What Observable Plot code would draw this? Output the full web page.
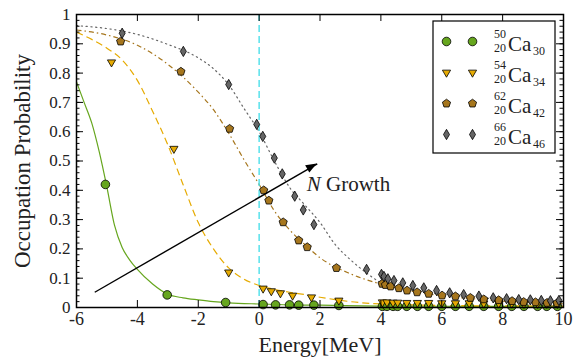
<!DOCTYPE html>
<html><head><meta charset="utf-8">
<script src="https://cdn.jsdelivr.net/npm/d3@7"></script>
<script src="https://cdn.jsdelivr.net/npm/@observablehq/plot@0.6"></script>
<style>body{margin:0;background:#fff}svg,svg text{font-family:"Liberation Serif","DejaVu Serif","Times New Roman",Times,"Nimbus Roman",serif !important}</style>
</head><body><div id="chart"></div>
<script>
// ---- data ----
const xTicks = [-6, -4, -2, 0, 2, 4, 6, 8, 10];
const yTicks = [0, 0.1, 0.2, 0.3, 0.4, 0.5, 0.6, 0.7, 0.8, 0.9, 1];
const yMinor = d3.range(0, 1.0001, 0.02);

const ca50X = [-5.05, -3.02, -1.1, 0.13, 0.54, 1.0, 1.3, 1.8, 2.62, 4.05, 4.2, 4.4, 4.55, 4.85, 5.2, 5.57, 6.0, 6.45, 6.9, 7.38, 7.87, 8.3, 8.7, 9.15, 9.45, 9.8];
const ca50Y = [0.42, 0.043, 0.017, 0.01, 0.009, 0.009, 0.008, 0.008, 0.007, 0.004, 0.004, 0.004, 0.004, 0.004, 0.004, 0.004, 0.004, 0.004, 0.004, 0.004, 0.004, 0.004, 0.004, 0.004, 0.004, 0.004];
const ca54X = [-4.85, -2.8, -1.0, 0.13, 0.40, 0.70, 1.1, 1.72, 2.62, 4.05, 4.2, 4.4, 4.55, 4.85, 5.2, 5.57, 6.0, 6.45, 6.9, 7.38, 7.87, 8.3, 8.7, 9.15, 9.45, 9.8];
const ca54Y = [0.837, 0.542, 0.12, 0.065, 0.056, 0.049, 0.041, 0.035, 0.024, 0.018, 0.018, 0.017, 0.017, 0.016, 0.016, 0.016, 0.015, 0.015, 0.015, 0.014, 0.014, 0.014, 0.013, 0.013, 0.013, 0.013];
const ca62X = [-4.55, -2.57, -0.97, 0.15, 0.32, 0.79, 1.3, 1.58, 2.54, 4.04, 4.15, 4.32, 4.59, 4.86, 5.19, 5.57, 6.01, 6.45, 6.94, 7.38, 7.87, 8.31, 8.69, 9.08, 9.46, 9.79];
const ca62Y = [0.908, 0.805, 0.61, 0.40, 0.365, 0.291, 0.229, 0.206, 0.135, 0.081, 0.077, 0.072, 0.066, 0.058, 0.052, 0.047, 0.041, 0.038, 0.033, 0.028, 0.025, 0.022, 0.019, 0.018, 0.016, 0.015];
const ca66X = [-4.5, -2.49, -1.0, -0.08, 0.12, 0.5, 0.76, 1.17, 1.45, 1.8, 3.53, 4.02, 4.1, 4.23, 4.43, 4.72, 5.05, 5.41, 5.83, 6.26, 6.72, 7.22, 7.69, 8.13, 8.53, 8.91, 9.27, 9.57, 9.85];
const ca66Y = [0.936, 0.874, 0.761, 0.625, 0.584, 0.51, 0.456, 0.38, 0.333, 0.283, 0.13, 0.113, 0.106, 0.098, 0.092, 0.084, 0.075, 0.067, 0.058, 0.05, 0.044, 0.039, 0.033, 0.03, 0.027, 0.026, 0.024, 0.023, 0.024];

const fit50X = [-6, -5.75, -5.5, -5.25, -5, -4.75, -4.5, -4.25, -4, -3.5, -3, -2.5, -2, -1.5, -1, 0, 1, 2, 4, 7, 10];
const fit50Y = [0.77, 0.70, 0.63, 0.53, 0.41, 0.28, 0.205, 0.162, 0.13, 0.08, 0.045, 0.033, 0.026, 0.02, 0.016, 0.012, 0.009, 0.008, 0.005, 0.004, 0.003];
const fit54X = [-6, -5.5, -5, -4.5, -4, -3.5, -3, -2.5, -2, -1.5, -1, -0.5, 0, 0.5, 1, 1.5, 2, 2.5, 3, 4, 5, 7, 10];
const fit54Y = [0.94, 0.915, 0.885, 0.845, 0.775, 0.67, 0.555, 0.42, 0.29, 0.2, 0.135, 0.097, 0.075, 0.062, 0.052, 0.044, 0.035, 0.027, 0.02, 0.012, 0.009, 0.006, 0.005];
const fit62X = [-6, -5, -4, -3, -2, -1.5, -1, -0.5, 0, 0.5, 1, 1.5, 2, 3, 4, 5, 6, 7, 8, 9, 10];
const fit62Y = [0.947, 0.93, 0.895, 0.83, 0.735, 0.675, 0.595, 0.505, 0.42, 0.33, 0.265, 0.215, 0.17, 0.115, 0.08, 0.056, 0.04, 0.03, 0.022, 0.017, 0.013];
const fit66X = [-6, -5, -4, -3, -2, -1.5, -1, -0.5, 0, 0.5, 1, 1.5, 2, 2.5, 3, 3.5, 4, 5, 6, 7, 8, 9, 10];
const fit66Y = [0.962, 0.952, 0.932, 0.898, 0.852, 0.815, 0.76, 0.68, 0.6, 0.5, 0.41, 0.35, 0.29, 0.215, 0.163, 0.12, 0.085, 0.06, 0.045, 0.035, 0.028, 0.022, 0.018];

const fermiLine = [0];
const arrowX = [-5.4, 1.91];
const arrowY = [0.052, 0.49];
const noteX = 1.58, noteY = 0.397;
const isotopes = [
  {A: "50", Z: "20", N: "30"},
  {A: "54", Z: "20", N: "34"},
  {A: "62", Z: "20", N: "42"},
  {A: "66", Z: "20", N: "46"}
];

// ---- styles ----
const FONT = "'Liberation Serif', 'DejaVu Serif', 'Times New Roman', Times, serif";
const colors = ["#66a61e", "#e6ab02", "#a6761d", "#666666"];
const triDown = {draw(c, s) { const r = Math.sqrt(s / Math.PI) * 1.1; c.moveTo(0, r); c.lineTo(-0.866 * r, -0.5 * r); c.lineTo(0.866 * r, -0.5 * r); c.closePath(); }};
const pentagon = {draw(c, s) { const r = Math.sqrt(s / Math.PI) * 1.0; for (let k = 0; k < 5; k++) { const a = -Math.PI / 2 + k * 2 * Math.PI / 5; const px = r * Math.cos(a), py = r * Math.sin(a); k ? c.lineTo(px, py) : c.moveTo(px, py); } c.closePath(); }};
const thinDiamond = {draw(c, s) { const r = Math.sqrt(s / Math.PI); c.moveTo(0, -1.2 * r); c.lineTo(0.7 * r, 0); c.lineTo(0, 1.2 * r); c.lineTo(-0.7 * r, 0); c.closePath(); }};
const symbols = ["circle", triDown, pentagon, thinDiamond];
const dashes = [null, "7,4", "5,3,1.5,3", "1.2,3.6"];

const W = 580, H = 360, mL = 76, mR = 17, mT = 14, mB = 53;
const pw = W - mL - mR, ph = H - mT - mB;
const zip = (xs, ys) => xs.map((x, i) => ({x, y: ys[i]}));
const pts = [zip(ca50X, ca50Y), zip(ca54X, ca54Y), zip(ca62X, ca62Y), zip(ca66X, ca66Y)];
const fits = [zip(fit50X, fit50Y), zip(fit54X, fit54Y), zip(fit62X, fit62Y), zip(fit66X, fit66Y)];
const mr = 4.3;

const marks = [];
fits.forEach((f, i) => marks.push(Plot.line(f, {x: "x", y: "y", curve: "monotone-x", stroke: colors[i], strokeWidth: 1.2, strokeDasharray: dashes[i], strokeLinecap: i === 3 ? "round" : "butt"})));
marks.push(Plot.ruleX(fermiLine, {x: d => d, stroke: "#3fdde8", strokeWidth: 1.3, strokeDasharray: "7,4"}));
pts.forEach((p, i) => marks.push(Plot.dot(p, {x: "x", y: "y", symbol: symbols[i], r: mr, fill: colors[i], stroke: "black", strokeWidth: 0.8})));
marks.push(Plot.link([{x1: arrowX[0], y1: arrowY[0], x2: arrowX[1], y2: arrowY[1]}], {x1: "x1", y1: "y1", x2: "x2", y2: "y2", stroke: "black", strokeWidth: 1.4}));
// inward ticks on all four sides
marks.push(Plot.tickX(xTicks, {x: d => d, insetTop: ph - 7, stroke: "black"}));
marks.push(Plot.tickX(xTicks, {x: d => d, insetBottom: ph - 7, stroke: "black"}));
marks.push(Plot.tickY(yMinor, {y: d => d, insetRight: pw - 3.5, stroke: "black"}));
marks.push(Plot.tickY(yMinor, {y: d => d, insetLeft: pw - 3.5, stroke: "black"}));
marks.push(Plot.tickY(yTicks, {y: d => d, insetRight: pw - 7, stroke: "black"}));
marks.push(Plot.tickY(yTicks, {y: d => d, insetLeft: pw - 7, stroke: "black"}));
marks.push(Plot.axisX({ticks: xTicks, tickSize: 0, tickPadding: 5, tickFormat: d => String(d), fontSize: 18, fontFamily: FONT, label: null, fill: "#222"}));
marks.push(Plot.axisY({ticks: yTicks, tickSize: 0, tickPadding: 6, tickFormat: d => d === 0 ? "0" : d === 1 ? "1" : d.toFixed(1), fontSize: 17, fontFamily: FONT, label: null, fill: "#222"}));
marks.push(Plot.text(["Energy[MeV]"], {frameAnchor: "bottom", dy: 37, text: d => d, fontSize: 22, fontFamily: FONT, textAnchor: "middle", lineAnchor: "middle", fill: "#222"}));
marks.push(Plot.text(["Occupation Probability"], {frameAnchor: "left", dx: -54, rotate: -90, text: d => d, fontSize: 23, fontFamily: FONT, textAnchor: "middle", lineAnchor: "middle", fill: "#222"}));
marks.push(Plot.frame({stroke: "black", strokeWidth: 1.5}));

const plot = Plot.plot({
  width: W, height: H, marginLeft: mL, marginRight: mR, marginTop: mT, marginBottom: mB,
  x: {domain: [-6, 10]}, y: {domain: [0, 1]},
  style: {fontFamily: FONT, background: "white", overflow: "visible"},
  marks
});
document.getElementById("chart").appendChild(plot);

// ---- annotations and legend ----
const svg = d3.select(plot);
const sx = plot.scale("x"), sy = plot.scale("y");
// filled arrowhead
{
  const x1 = sx.apply(arrowX[0]), y1 = sy.apply(arrowY[0]), x2 = sx.apply(arrowX[1]), y2 = sy.apply(arrowY[1]);
  const a = Math.atan2(y2 - y1, x2 - x1), L = 11, w = 4.2;
  const bx = x2 - L * Math.cos(a), by = y2 - L * Math.sin(a);
  const p = [[x2, y2], [bx + w * Math.sin(a), by - w * Math.cos(a)], [bx - w * Math.sin(a), by + w * Math.cos(a)]];
  svg.append("path").attr("d", "M" + p.join("L") + "Z").attr("fill", "black");
}
{
  const t = svg.append("text").attr("x", sx.apply(noteX)).attr("y", sy.apply(noteY)).attr("font-size", 21).attr("fill", "#222").attr("text-anchor", "start").attr("font-family", FONT);
  t.append("tspan").attr("font-style", "italic").text("N");
  t.append("tspan").text(" Growth");
}
{
  const g = svg.append("g").attr("text-anchor", "start").attr("font-family", FONT).attr("fill", "#222");
  g.append("rect").attr("x", 433).attr("y", 21).attr("width", 122).attr("height", 132).attr("fill", "white").attr("stroke", "black").attr("stroke-width", 1.2);
  isotopes.forEach((iso, i) => {
    const cy = 41.5 + i * 31;
    [446.5, 472.5].forEach(cx => {
      g.append("path").attr("transform", `translate(${cx},${cy})`)
        .attr("d", d3.symbol().type(symbols[i] === "circle" ? d3.symbolCircle : symbols[i]).size(Math.PI * mr * mr)())
        .attr("fill", colors[i]).attr("stroke", "black").attr("stroke-width", 0.8);
    });
    g.append("text").attr("x", 494).attr("y", cy - 3.5).attr("font-size", 12).text(iso.A);
    g.append("text").attr("x", 494).attr("y", cy + 10).attr("font-size", 12).text(iso.Z);
    g.append("text").attr("x", 508).attr("y", cy + 9).attr("font-size", 21).text("Ca");
    g.append("text").attr("x", 533).attr("y", cy + 13).attr("font-size", 12).text(iso.N);
  });
}
</script></body></html>
